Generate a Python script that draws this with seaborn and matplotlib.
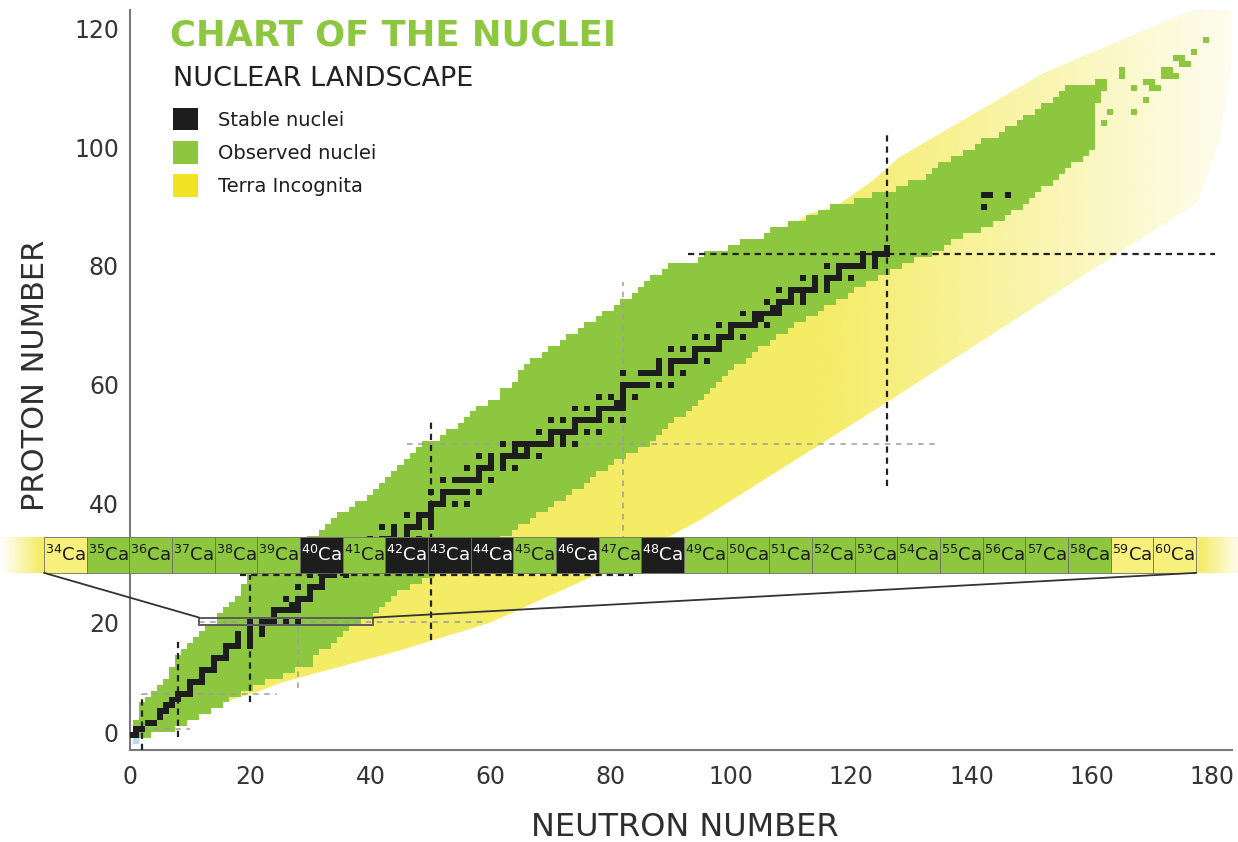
import numpy as np
import pandas as pd
import matplotlib
matplotlib.use("Agg")
import matplotlib.pyplot as plt
import matplotlib.transforms as mtransforms
from matplotlib.colors import ListedColormap, to_rgba
from matplotlib.patches import Polygon, Rectangle, Patch
import seaborn as sns

# ---------------------------------------------------------------- data
# observed nuclei: for each proton number Z the lightest and heaviest known N
obs_Z = list(range(1, 111))
obs_Nmin = [0, 1, 1, 2, 2, 2, 3, 4, 5, 6, 7, 7, 8, 8, 9, 10, 11, 12, 13, 15,
            15, 16, 17, 18, 19, 19, 20, 20, 23, 24, 25, 26, 27, 30, 32, 33, 34, 35, 37, 38,
            40, 41, 42, 43, 44, 45, 46, 47, 48, 49, 52, 53, 55, 56, 57, 58, 60, 62, 62, 64,
            65, 65, 66, 67, 69, 70, 72, 73, 75, 76, 78, 79, 81, 82, 84, 85, 86, 87, 89, 90,
            95, 96, 100, 102, 106, 107, 110, 113, 115, 117, 121, 124, 128, 130, 133, 134, 135, 137, 139, 141,
            142, 145, 146, 148, 149, 151, 152, 154, 155, 156]
obs_Nmax = [3, 7, 9, 11, 13, 15, 16, 18, 20, 22, 25, 27, 30, 30, 31, 33, 34, 35, 36, 38,
            40, 41, 42, 43, 44, 46, 48, 50, 51, 53, 55, 57, 59, 61, 63, 64, 66, 67, 69, 70,
            72, 73, 75, 76, 77, 79, 80, 82, 84, 86, 87, 88, 89, 90, 92, 93, 94, 95, 96, 97,
            98, 99, 100, 102, 103, 104, 106, 107, 109, 110, 112, 114, 115, 117, 119, 120, 122, 124, 126, 128,
            130, 133, 135, 136, 138, 141, 143, 145, 146, 148, 149, 150, 151, 153, 154, 155, 156, 158, 159, 160,
            160, 160, 160, 160, 160, 160, 160, 161, 161, 162]

# isolated superheavy nuclei
extra_N = [162, 163, 167, 167, 165, 165, 161, 162, 169, 170, 170, 171, 169,
           172, 173, 172, 173, 174, 175, 176, 174, 175, 177, 179]
extra_Z = [104, 106, 106, 110, 112, 113, 111, 111, 111, 111, 110, 110, 108,
           113, 113, 112, 112, 112, 114, 114, 115, 115, 116, 118]

# stable nuclei (N, Z)
stable_Z = [1, 1, 2, 2, 3, 3, 4, 5, 5, 6, 6, 7, 7, 8, 8, 8, 9, 10, 10, 10, 11,
            12, 12, 12, 13, 14, 14, 14, 15, 16, 16, 16, 16, 17, 17, 18, 18, 18,
            19, 19, 20, 20, 20, 20, 20, 20, 21, 22, 22, 22, 22, 22, 23, 23,
            24, 24, 24, 24, 25, 26, 26, 26, 26, 27, 28, 28, 28, 28, 28, 29, 29,
            30, 30, 30, 30, 30, 31, 31, 32, 32, 32, 32, 32, 33,
            34, 34, 34, 34, 34, 34, 35, 35, 36, 36, 36, 36, 36, 36, 37, 37,
            38, 38, 38, 38, 39, 40, 40, 40, 40, 40, 41,
            42, 42, 42, 42, 42, 42, 42, 44, 44, 44, 44, 44, 44, 44, 45,
            46, 46, 46, 46, 46, 46, 47, 47, 48, 48, 48, 48, 48, 48, 48, 48, 49, 49,
            50, 50, 50, 50, 50, 50, 50, 50, 50, 50, 51, 51,
            52, 52, 52, 52, 52, 52, 52, 52, 53,
            54, 54, 54, 54, 54, 54, 54, 54, 54, 55,
            56, 56, 56, 56, 56, 56, 56, 57, 57, 58, 58, 58, 58, 59,
            60, 60, 60, 60, 60, 60, 60, 62, 62, 62, 62, 62, 62, 62, 63, 63,
            64, 64, 64, 64, 64, 64, 64, 65, 66, 66, 66, 66, 66, 66, 66, 67,
            68, 68, 68, 68, 68, 68, 69, 70, 70, 70, 70, 70, 70, 70, 71, 71,
            72, 72, 72, 72, 72, 72, 73, 73, 74, 74, 74, 74, 74, 75, 75,
            76, 76, 76, 76, 76, 76, 76, 77, 77, 78, 78, 78, 78, 78, 78, 79,
            80, 80, 80, 80, 80, 80, 80, 81, 81, 82, 82, 82, 82, 83, 90, 92, 92, 92]
stable_N = [0, 1, 1, 2, 3, 4, 5, 5, 6, 6, 7, 7, 8, 8, 9, 10, 10, 10, 11, 12, 12,
            12, 13, 14, 14, 14, 15, 16, 16, 16, 17, 18, 20, 18, 20, 18, 20, 22,
            20, 22, 20, 22, 23, 24, 26, 28, 24, 24, 25, 26, 27, 28, 27, 28,
            26, 28, 29, 30, 30, 28, 30, 31, 32, 32, 30, 32, 33, 34, 36, 34, 36,
            34, 36, 37, 38, 40, 38, 40, 38, 40, 41, 42, 44, 42,
            40, 42, 43, 44, 46, 48, 44, 46, 42, 44, 46, 47, 48, 50, 48, 50,
            46, 48, 49, 50, 50, 50, 51, 52, 54, 56, 52,
            50, 52, 53, 54, 55, 56, 58, 52, 54, 55, 56, 57, 58, 60, 58,
            56, 58, 59, 60, 62, 64, 60, 62, 58, 60, 62, 63, 64, 65, 66, 68, 64, 66,
            62, 64, 65, 66, 67, 68, 69, 70, 72, 74, 70, 72,
            68, 70, 71, 72, 73, 74, 76, 78, 74,
            70, 72, 74, 75, 76, 77, 78, 80, 82, 78,
            74, 76, 78, 79, 80, 81, 82, 81, 82, 78, 80, 82, 84, 82,
            82, 83, 84, 85, 86, 88, 90, 82, 85, 86, 87, 88, 90, 92, 88, 90,
            88, 90, 91, 92, 93, 94, 96, 94, 90, 92, 94, 95, 96, 97, 98, 98,
            94, 96, 98, 99, 100, 102, 100, 98, 100, 101, 102, 103, 104, 106, 104, 105,
            102, 104, 105, 106, 107, 108, 107, 108, 106, 108, 109, 110, 112, 110, 112,
            108, 110, 111, 112, 113, 114, 116, 114, 116, 112, 114, 116, 117, 118, 120, 118,
            116, 118, 119, 120, 121, 122, 124, 122, 124, 122, 124, 125, 126, 126, 142, 142, 143, 146]

# free neutron
neutron_N = [1]
neutron_Z = [0]

# outline of the predicted (unexplored) region: neutron-rich edge, then proton-rich edge
drip_lo_N = [14, 22, 25, 45, 59.8, 78.2, 94.8, 125.4, 162.7, 177.5, 181.3, 184.5]
drip_lo_Z = [6, 8.6, 9.8, 15.3, 19.9, 28.3, 37.2, 56.7, 81.1, 90.6, 101.2, 122.6]
drip_hi_N = [178, 152, 128, 123.6, 117.2, 113, 100, 80, 60, 40, 25, 14]
drip_hi_Z = [123.6, 112.5, 98.3, 94.4, 89.8, 88.8, 80, 62, 46, 30, 17, 8]

# magic-number guide lines
vline_N = [2, 8, 20, 28, 50, 82, 126]
vline_lo = [-1.5, 0.7, 6.6, 8.9, 17.0, 28.0, 43.0]
vline_hi = [8.0, 17.3, 28.0, 28.0, 54.4, 77.3, 102.0]
vline_dark = [True, True, True, False, True, False, True]
hline_Z = [2, 8, 20, 28, 50, 82]
hline_lo = [2.0, 2.0, 11.5, 18.3, 46.0, 92.8]
hline_hi = [10.0, 24.5, 59.4, 83.7, 134.0, 180.5]
hline_dark = [False, False, False, True, False, True]

# calcium isotopes shown in the magnified strip
ca_Z = 20
ca_A = list(range(34, 61))

# ---------------------------------------------------------------- style
GREEN = "#8dc63f"
BLACK = "#1d1d1d"
YELLOW = "#f5ec66"
LEGEND_YELLOW = "#f2e424"
TEXT = "#2e2e2e"
AXIS = "#7a7a7a"

sns.set_theme(style="white")
plt.rcParams["font.family"] = ["DejaVu Sans"]
plt.rcParams["mathtext.fontset"] = "dejavusans"
plt.rcParams["lines.scale_dashes"] = False

fig = plt.figure(figsize=(12.38, 8.42), dpi=100)
ax = fig.add_axes([130 / 1238, 92 / 842, 1102 / 1238, 740 / 842])

# ---------------------------------------------------------------- terra incognita
poly_xy = np.column_stack([np.r_[drip_lo_N, drip_hi_N], np.r_[drip_lo_Z, drip_hi_Z]])
terra = Polygon(poly_xy, closed=True, facecolor="none", edgecolor="none")
ax.add_patch(terra)
n_grid = np.linspace(0, 185, 500)
fade = np.clip(1 - (n_grid - 115) / 70 * 0.92, 0.08, 1.0)
rgba = np.zeros((1, n_grid.size, 4))
rgba[..., :3] = to_rgba(YELLOW)[:3]
rgba[..., 3] = fade
im = ax.imshow(rgba, extent=[0, 185, -2, 125], aspect="auto", origin="lower",
               interpolation="bilinear", zorder=1)
im.set_clip_path(terra)

# ---------------------------------------------------------------- observed nuclei
rows = [(n, z) for z, lo, hi in zip(obs_Z, obs_Nmin, obs_Nmax) for n in range(lo, hi + 1)]
rows += list(zip(extra_N, extra_Z))
obs_df = pd.DataFrame(rows, columns=["N", "Z"])
sns.histplot(data=obs_df, x="N", y="Z", discrete=True, cmap=ListedColormap([GREEN]),
             ax=ax, zorder=2)

# ---------------------------------------------------------------- magic numbers
for n, lo, hi, dark in zip(vline_N, vline_lo, vline_hi, vline_dark):
    ax.plot([n, n], [lo, hi], color="#222222" if dark else "#9c9c9c",
            lw=1.6 if dark else 1.1, dashes=(4.5, 3.5) if dark else (4, 4), zorder=3)
for z, lo, hi, dark in zip(hline_Z, hline_lo, hline_hi, hline_dark):
    ax.plot([lo, hi], [z, z], color="#222222" if dark else "#9c9c9c",
            lw=1.6 if dark else 1.1, dashes=(4.5, 3.5) if dark else (4, 4),
            zorder=6.5 if z == 28 else 3)

# ---------------------------------------------------------------- stable nuclei
stable_df = pd.DataFrame({"N": stable_N, "Z": stable_Z})
sns.histplot(data=stable_df, x="N", y="Z", discrete=True, cmap=ListedColormap([BLACK]),
             ax=ax, zorder=4)
for n, z in zip(neutron_N, neutron_Z):
    ax.add_patch(Rectangle((n - 0.5, z - 0.5), 1, 1, facecolor="#b4dcf2",
                           edgecolor="none", zorder=4))

# ---------------------------------------------------------------- magnified Ca strip
band_x0, band_x1 = -14.31, 177.34
band_y0, band_y1 = 28.33, 34.39
ca_stable = {n for n, z in zip(stable_N, stable_Z) if z == ca_Z}
ca_lo = obs_Nmin[obs_Z.index(ca_Z)]
ca_hi = obs_Nmax[obs_Z.index(ca_Z)]

strip_n = np.linspace(-21.63, 184.4, 600)
strip_alpha = np.clip((strip_n + 21.63) / 6.65, 0, 1)
strip_alpha = np.minimum(strip_alpha, np.clip(1 - (strip_n - 178.0) / 6.4 * 0.85, 0.15, 1))
strip = np.zeros((1, strip_n.size, 4))
strip[..., :3] = to_rgba(YELLOW)[:3]
strip[..., 3] = strip_alpha
band_bg = ax.imshow(strip, extent=[-21.63, 184.4, band_y0, band_y1], aspect="auto",
                    origin="lower", interpolation="bilinear", zorder=5)
band_bg.set_clip_on(False)

cell_w = (band_x1 - band_x0) / len(ca_A)
for i, a in enumerate(ca_A):
    n = a - ca_Z
    if n in ca_stable:
        fc, tc = BLACK, "white"
    elif ca_lo <= n <= ca_hi:
        fc, tc = GREEN, "#1a1a1a"
    else:
        fc, tc = "#f8f07c", "#1a1a1a"
    x0 = band_x0 + i * cell_w
    ax.add_patch(Rectangle((x0, band_y0), cell_w, band_y1 - band_y0, facecolor=fc,
                           edgecolor="#6e6e6e", lw=0.6, zorder=6, clip_on=False))
    ax.text(x0 + cell_w / 2, (band_y0 + band_y1) / 2, f"$^{{{a}}}$Ca", ha="center",
            va="center", fontsize=13, color=tc, zorder=7, clip_on=False)

# zoom box on the Z = 20 row and its connectors
box_lo, box_hi = 11.5, 40.5
ax.add_patch(Rectangle((box_lo, 19.5), box_hi - box_lo, 1.3, fill=False,
                       edgecolor="#5c5c5c", lw=1.4, zorder=6))
ax.plot([band_x0, box_lo], [band_y0, 20.8], color="#333333", lw=1.3, zorder=6,
        clip_on=False)
ax.plot([band_x1, box_hi], [band_y0, 20.8], color="#333333", lw=1.3, zorder=6,
        clip_on=False)

# ---------------------------------------------------------------- axes
ax.set_xlim(0, 183.33)
ax.set_ylim(-1.5, 123.1)
ax.set_xticks(range(0, 181, 20))
ax.set_yticks(range(0, 121, 20))
ax.grid(False)
sns.despine(ax=ax)
for side in ("left", "bottom"):
    ax.spines[side].set_color(AXIS)
    ax.spines[side].set_linewidth(1.5)
ax.tick_params(axis="both", direction="in", length=9, width=1.3, color=AXIS,
               labelsize=17, labelcolor="#353535")
ax.tick_params(axis="x", pad=11)
ax.tick_params(axis="y", pad=8)

# the zero label on the proton axis sits slightly above its tick
fig.canvas.draw()
zero_lbl = ax.get_yticklabels()[0]
zero_lbl.set_transform(zero_lbl.get_transform()
                       + mtransforms.ScaledTranslation(0, 6 / 72, fig.dpi_scale_trans))

ax.set_xlabel("NEUTRON NUMBER", fontsize=23, color=TEXT)
ax.set_ylabel("PROTON NUMBER", fontsize=22, color=TEXT)
ax.xaxis.label.set_va("center")
ax.yaxis.label.set_va("center")
ax.xaxis.set_label_coords(0.5036, -0.1054)
ax.yaxis.set_label_coords(-0.0862, 0.5068)

# ---------------------------------------------------------------- titles and legend
fig.text(170 / 1238, 1 - 36 / 842, "CHART OF THE NUCLEI", fontsize=25.5,
         fontweight="bold", color=GREEN, ha="left", va="center")
fig.text(173 / 1238, 1 - 79 / 842, "NUCLEAR LANDSCAPE", fontsize=19.5,
         color="#222222", ha="left", va="center")
handles = [Patch(facecolor=BLACK, edgecolor="none", label="Stable nuclei"),
           Patch(facecolor=GREEN, edgecolor="none", label="Observed nuclei"),
           Patch(facecolor=LEGEND_YELLOW, edgecolor="none", label="Terra Incognita")]
leg = ax.legend(handles=handles, loc="upper left", bbox_to_anchor=(173 / 1238, 1 - 108 / 842),
                bbox_transform=fig.transFigure, frameon=False, fontsize=14,
                handlelength=1.3, handleheight=1.4, handletextpad=1.0,
                labelspacing=0.55, borderpad=0, borderaxespad=0)
for t in leg.get_texts():
    t.set_color("#1e1e1e")

fig.savefig("out.png", dpi=100)
